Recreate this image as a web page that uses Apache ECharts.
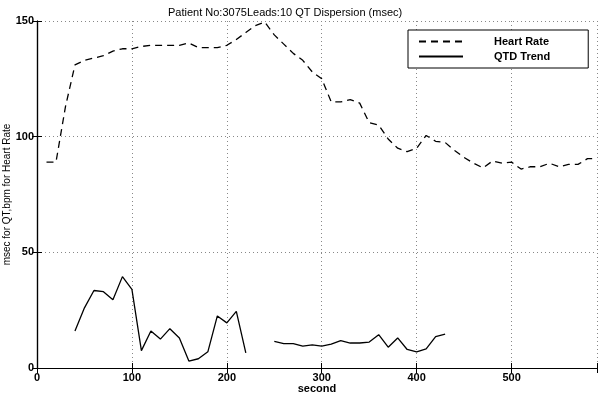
<!DOCTYPE html>
<html>
<head>
<meta charset="utf-8">
<script src="https://cdn.jsdelivr.net/npm/echarts@6/dist/echarts.min.js"></script>
<style>
  html, body { margin: 0; padding: 0; background: #fff; }
  #main { width: 601px; height: 394px; }
</style>
</head>
<body>
<div id="main"></div>
<script>
// sample times (second)
const seconds = [10, 20, 30, 40, 50, 60, 70, 80, 90, 100,
  110, 120, 130, 140, 150, 160, 170, 180, 190, 200,
  210, 220, 230, 240, 250, 260, 270, 280, 290, 300,
  310, 320, 330, 340, 350, 360, 370, 380, 390, 400,
  410, 420, 430, 440, 450, 460, 470, 480, 490, 500,
  510, 520, 530, 540, 550, 560, 570, 580, 590]

// bpm
const heartRate = [89, 89, 113, 131, 133, 134, 135, 137, 138, 138,
  139, 139.5, 139.5, 139.5, 139.5, 140.5, 138.5, 138.5, 138.5, 139.5,
  142, 145, 148, 149.5, 144, 140, 136, 133, 128, 125,
  115, 115, 116, 114.5, 106, 105, 99, 95, 93.5, 95,
  100.5, 98, 97.5, 94, 91, 88.5, 86.5, 89.5, 88.5, 89,
  86, 87, 87, 88.5, 87, 88, 88, 90.5, 90.5]

// msec, null = no measurement
const qtdTrend = [null, null, null, 16, 26, 33.5, 33, 29.5, 39.5, 34,
  7.5, 16, 12.5, 17, 13, 3, 4, 7, 22.5, 19.5,
  24.5, 6.5, null, null, 11.5, 10.5, 10.5, 9.5, 10, 9.5,
  10.3, 11.8, 10.8, 10.8, 11.2, 14.4, 9, 13, 8, 7,
  8.3, 13.6, 14.6, null, null, null, null, null, null, null,
  null, null, null, null, null, null, null, null, null]

const xTicks = [0, 100, 200, 300, 400, 500]
const yTicks = [0, 50, 100, 150]

const pairs = vals => seconds.map((s, i) => [s, vals[i]])

const chart = echarts.init(document.getElementById('main'))

const font = 'Liberation Sans, Arial, sans-serif'
const labelStyle = { color: '#000', fontFamily: font, fontSize: 11, fontWeight: 'bold' }

chart.setOption({
  animation: false,
  backgroundColor: '#fff',
  title: {
    text: 'Patient No:3075Leads:10 QT Dispersion (msec)',
    left: 163,
    top: 2,
    textStyle: { color: '#000', fontFamily: font, fontSize: 11, fontWeight: 'normal' }
  },
  legend: {
    orient: 'vertical',
    left: 408,
    top: 30,
    padding: [6, 38, 6, 10],
    itemGap: 4,
    itemWidth: 44,
    itemHeight: 10,
    backgroundColor: '#fff',
    borderColor: '#000',
    borderWidth: 1,
    itemStyle: { opacity: 0 },
    textStyle: { color: '#000', fontFamily: font, fontSize: 11, fontWeight: 'bold', padding: [0, 0, 0, 26] }
  },
  grid: { left: 37, right: 4, top: 21, bottom: 26, outerBoundsMode: 'none' },
  xAxis: [
    {
      type: 'value', min: 0, max: 590, interval: 100,
      name: 'second', nameLocation: 'middle', nameGap: 15, nameMoveOverlap: false,
      nameTextStyle: labelStyle,
      axisLine: { lineStyle: { color: '#000', width: 1.2 } },
      axisTick: { inside: true, length: 5, lineStyle: { color: '#000' } },
      axisLabel: Object.assign({ margin: 4, formatter: v => xTicks.includes(v) ? v : '' }, labelStyle),
      splitLine: { show: true, lineStyle: { color: '#888', type: [1, 3] } }
    },
    {
      type: 'value', min: 0, max: 590, interval: 100, position: 'top',
      axisLine: { lineStyle: { color: '#000', width: 1.2 } },
      axisTick: { inside: true, length: 5, lineStyle: { color: '#000' } },
      axisLabel: { show: false },
      splitLine: { show: false }
    }
  ],
  yAxis: [
    {
      type: 'value', min: 0, max: 150, interval: 50,
      name: 'msec for QT,bpm for Heart Rate', nameLocation: 'middle', nameGap: 25, nameMoveOverlap: false,
      nameTextStyle: { color: '#000', fontFamily: font, fontSize: 10 },
      axisLine: { show: true, lineStyle: { color: '#000', width: 1.2 } },
      axisTick: { show: true, inside: true, length: 5, lineStyle: { color: '#000' } },
      axisLabel: Object.assign({ margin: 3, formatter: v => yTicks.includes(v) ? v : '' }, labelStyle),
      splitLine: { show: true, lineStyle: { color: '#888', type: [1, 3] } }
    },
    {
      type: 'value', min: 0, max: 150, interval: 50, position: 'right',
      axisLine: { show: true, lineStyle: { color: '#000', width: 1.2 } },
      axisTick: { show: true, inside: true, length: 5, lineStyle: { color: '#000' } },
      axisLabel: { show: false },
      splitLine: { show: false }
    }
  ],
  series: [
    {
      name: 'Heart Rate',
      type: 'line',
      data: pairs(heartRate),
      symbol: 'none',
      lineStyle: { color: '#000', width: 1.3, type: [7, 5] },
      itemStyle: { color: '#000' }
    },
    {
      name: 'QTD Trend',
      type: 'line',
      data: pairs(qtdTrend),
      connectNulls: false,
      symbol: 'none',
      lineStyle: { color: '#000', width: 1.3 },
      itemStyle: { color: '#000' }
    }
  ]
})
</script>
</body>
</html>
